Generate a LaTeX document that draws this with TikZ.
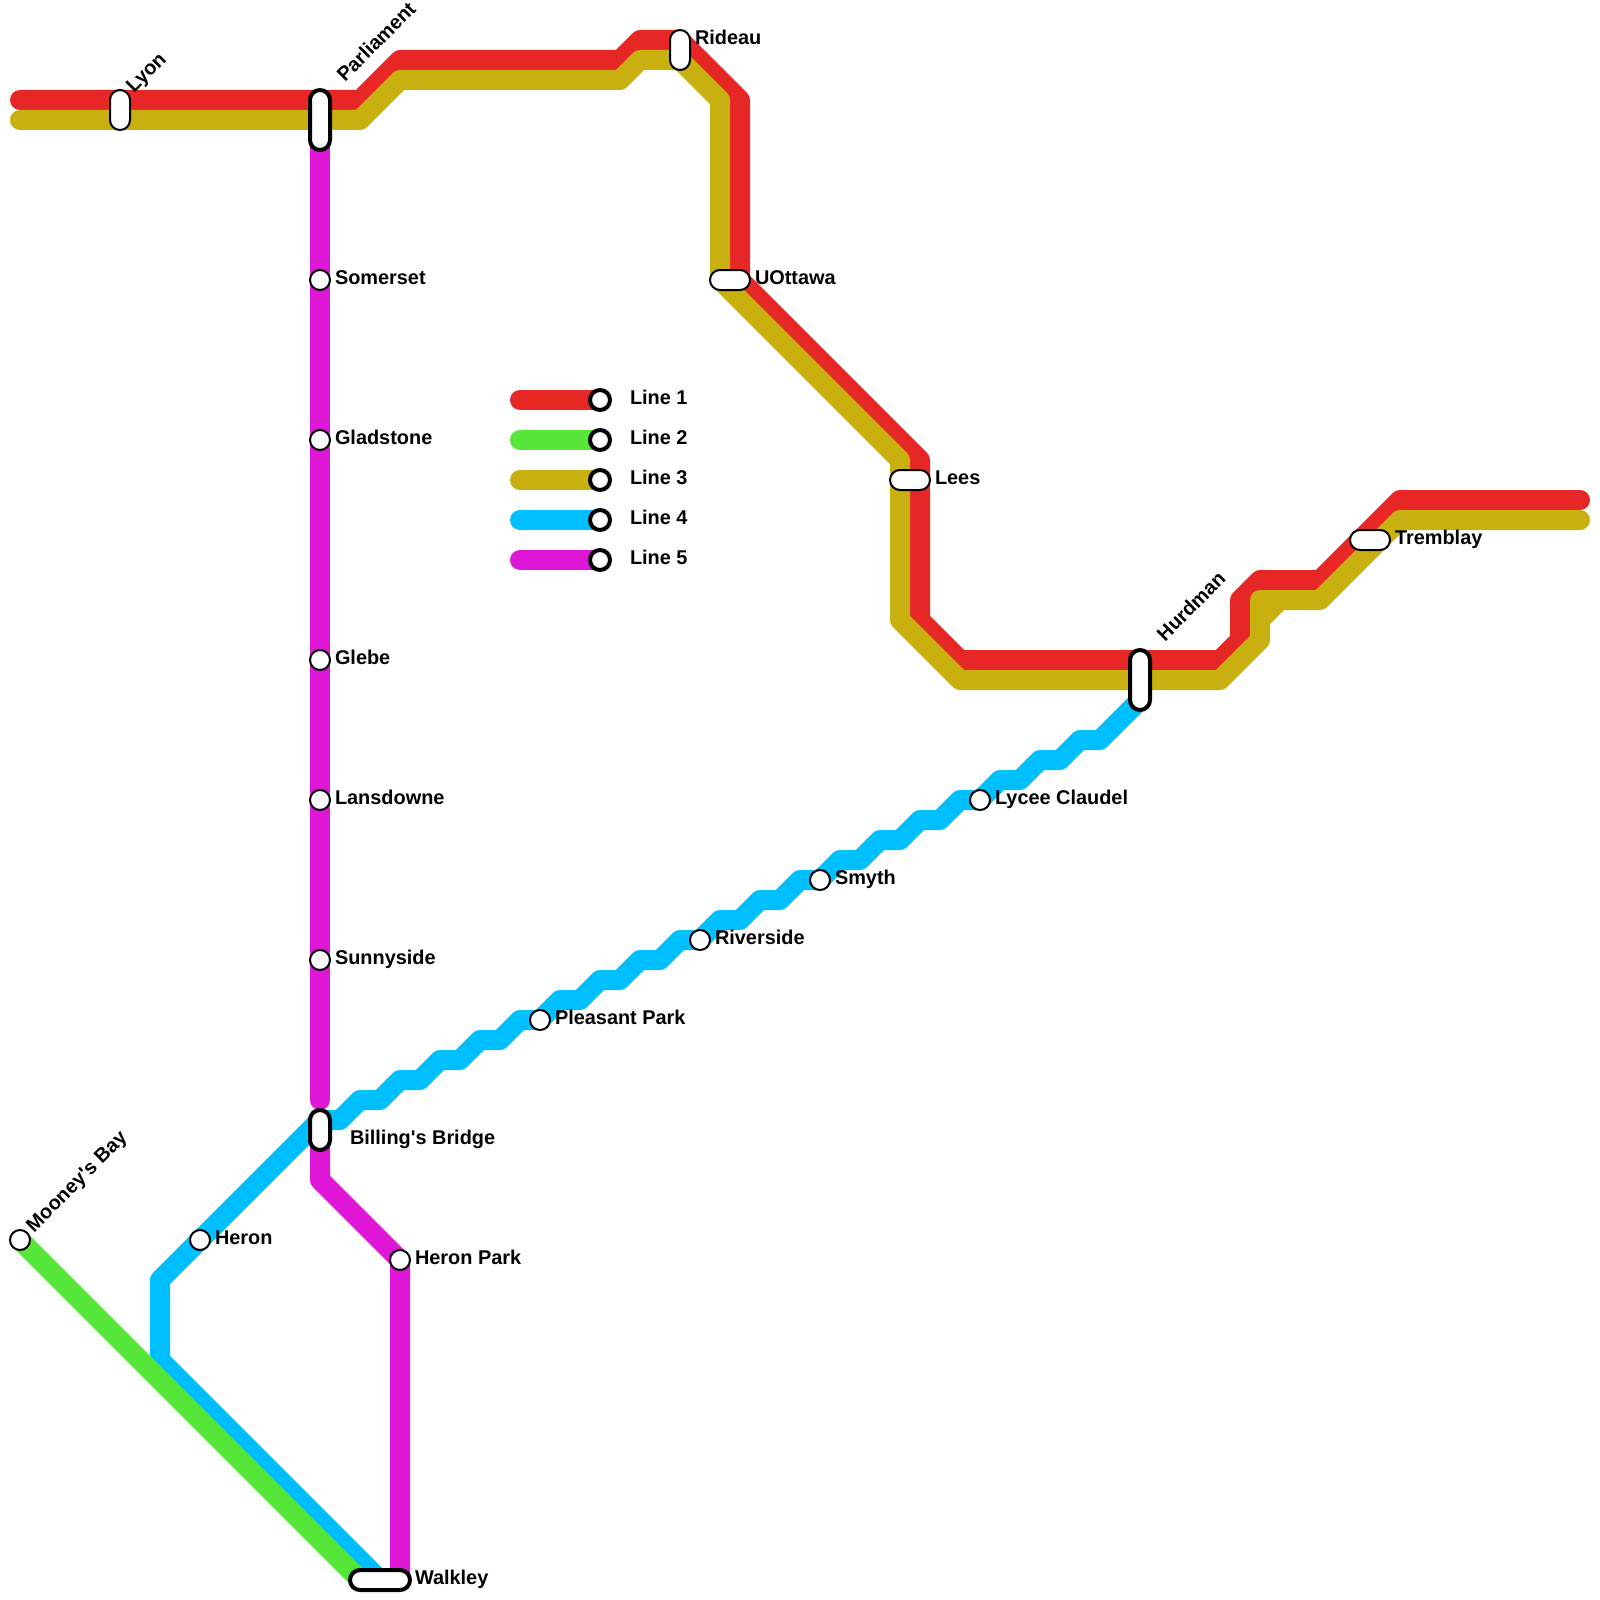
\documentclass[tikz,border=0pt]{standalone}
\usepackage{fontspec}
\setmainfont{Liberation Sans}
\usepackage{xcolor}
\usetikzlibrary{positioning}
\definecolor{MetroRed}{RGB}{230, 39, 38}
\definecolor{MetroGreen}{RGB}{85, 230, 57}
\definecolor{MetroGold}{RGB}{200, 176, 16}
\definecolor{MetroBlue}{RGB}{0, 191, 255}
\definecolor{MetroMagenta}{RGB}{222, 22, 214}
\tikzset{
  track/.style={line width=20pt, line cap=round, line join=round},
  stop/.style={circle, draw=black, fill=white, line width=2pt, minimum size=20pt, inner sep=0pt, outer sep=0pt},
  legendstop/.style={stop, line width=4pt},
  pillup/.style={rectangle, draw=black, fill=white, line width=2pt, rounded corners=10pt,
        minimum width=20pt, inner sep=0pt, outer sep=0pt},
  pillside/.style={pillup, minimum height=20pt},
  hubpill/.style={pillup, line width=4pt},
  stoplabel/.style={anchor=base west, inner sep=0pt, outer sep=0pt, text=black,
        font=\fontsize{19.9}{22}\selectfont\bfseries},
  slantlabel/.style={stoplabel, rotate=45},
}

\begin{document}
\begin{tikzpicture}[x=1pt,y=-1pt]
  \path[use as bounding box, fill=white] (0,0) rectangle (1600,1600);

  % Line 5, in two parts either side of the bridge
  \draw[track, MetroMagenta] (320,120) -- (320,1100);
  \draw[track, MetroMagenta] (320,1140) -- (320,1180) -- (400,1260) -- (400,1580);

  % Line 4, stepped run up to the north east
  \draw[track, MetroBlue]
    (380,1580) -- (160,1360) -- (160,1280) -- (320,1120) -- (340,1120) --
    (360,1100) -- (380,1100) -- (400,1080) -- (420,1080) -- (440,1060) --
    (460,1060) -- (480,1040) -- (500,1040) -- (520,1020) -- (540,1020) --
    (560,1000) -- (580,1000) -- (600,980) -- (620,980) -- (640,960) --
    (660,960) -- (680,940) -- (700,940) -- (720,920) -- (740,920) --
    (760,900) -- (780,900) -- (800,880) -- (820,880) -- (840,860) --
    (860,860) -- (880,840) -- (900,840) -- (920,820) -- (940,820) --
    (960,800) -- (980,800) -- (1000,780) -- (1020,780) -- (1040,760) --
    (1060,760) -- (1080,740) -- (1100,740) -- (1140,700);

  % Line 2
  \draw[track, MetroGreen] (20,1240) -- (360,1580);

  % Line 1
  \draw[track, MetroRed]
    (20,100) -- (360,100) -- (400,60) -- (620,60) -- (640,40) -- (680,40) --
    (740,100) -- (740,280) -- (920,460) -- (920,620) -- (960,660) --
    (1220,660) -- (1240,640) -- (1240,600) -- (1260,580) -- (1320,580) --
    (1400,500) -- (1580,500);

  % Line 3
  \draw[track, MetroGold]
    (20,120) -- (360,120) -- (400,80) -- (620,80) -- (640,60) -- (680,60) --
    (720,100) -- (720,280) -- (900,460) -- (900,620) -- (960,680) --
    (1220,680) -- (1260,640) -- (1260,600) -- (1320,600) --
    (1400,520) -- (1580,520);
  \draw[track, MetroGold] (1260,620) -- (1280,600);

  % Stations on the top run
  \node[pillup, minimum height=40pt] (lyon) at (120,110) {};
  \node[slantlabel] (lyonlabel) at (134,93.5) {Lyon};
  \node[hubpill, minimum height=60pt] (parliament) at (320,120) {};
  \node[slantlabel] (parliamentlabel) at (345,82.5) {Parliament};
  \node[pillup, minimum height=40pt] (rideau) at (680,50) {};
  \node[stoplabel] (rideaulabel) at (695,44.7) {Rideau};
  \node[pillside, minimum width=40pt] (uottawa) at (730,280) {};
  \node[stoplabel] (uottawalabel) at (755,284.7) {UOttawa};
  \node[pillside, minimum width=40pt] (lees) at (910,480) {};
  \node[stoplabel] (leeslabel) at (935,484.7) {Lees};
  \node[hubpill, minimum height=60pt] (hurdman) at (1140,680) {};
  \node[slantlabel] (hurdmanlabel) at (1165,642) {Hurdman};
  \node[pillside, minimum width=40pt] (tremblay) at (1370,540) {};
  \node[stoplabel] (tremblaylabel) at (1395,544.7) {Tremblay};

  % Stations on Line 5
  \node[stop] (somerset) at (320,280) {};
  \node[stoplabel] (somersetlabel) at (335,284.7) {Somerset};
  \node[stop] (gladstone) at (320,440) {};
  \node[stoplabel] (gladstonelabel) at (335,444.7) {Gladstone};
  \node[stop] (glebe) at (320,660) {};
  \node[stoplabel] (glebelabel) at (335,664.7) {Glebe};
  \node[stop] (lansdowne) at (320,800) {};
  \node[stoplabel] (lansdownelabel) at (335,804.7) {Lansdowne};
  \node[stop] (sunnyside) at (320,960) {};
  \node[stoplabel] (sunnysidelabel) at (335,964.7) {Sunnyside};
  \node[hubpill, minimum height=40pt] (billings) at (320,1130) {};
  \node[stoplabel] (billingslabel) at (350,1144.7) {Billing\textquotesingle s Bridge};
  \node[stop] (heronpark) at (400,1260) {};
  \node[stoplabel] (heronparklabel) at (415,1264.7) {Heron Park};
  \node[hubpill, minimum height=20pt, minimum width=60pt] (walkley) at (380,1580) {};
  \node[stoplabel] (walkleylabel) at (415,1584.7) {Walkley};

  % Stations on Line 4 and Line 2
  \node[stop] (mooneys) at (20,1240) {};
  \node[slantlabel] (mooneyslabel) at (34,1233) {Mooney\textquotesingle s Bay};
  \node[stop] (heron) at (200,1240) {};
  \node[stoplabel] (heronlabel) at (215,1244.7) {Heron};
  \node[stop] (pleasant) at (540,1020) {};
  \node[stoplabel] (pleasantlabel) at (555,1024.7) {Pleasant Park};
  \node[stop] (riverside) at (700,940) {};
  \node[stoplabel] (riversidelabel) at (715,944.7) {Riverside};
  \node[stop] (smyth) at (820,880) {};
  \node[stoplabel] (smythlabel) at (835,884.7) {Smyth};
  \node[stop] (lycee) at (980,800) {};
  \node[stoplabel] (lyceelabel) at (995,804.7) {Lycee Claudel};

  % Legend
  \draw[track, MetroRed] (520,400) -- (600,400);
  \node[legendstop] (legendone) at (600,400) {};
  \node[stoplabel] (legendonelabel) at (630,404.7) {Line 1};
  \draw[track, MetroGreen] (520,440) -- (600,440);
  \node[legendstop] (legendtwo) at (600,440) {};
  \node[stoplabel] (legendtwolabel) at (630,444.7) {Line 2};
  \draw[track, MetroGold] (520,480) -- (600,480);
  \node[legendstop] (legendthree) at (600,480) {};
  \node[stoplabel] (legendthreelabel) at (630,484.7) {Line 3};
  \draw[track, MetroBlue] (520,520) -- (600,520);
  \node[legendstop] (legendfour) at (600,520) {};
  \node[stoplabel] (legendfourlabel) at (630,524.7) {Line 4};
  \draw[track, MetroMagenta] (520,560) -- (600,560);
  \node[legendstop] (legendfive) at (600,560) {};
  \node[stoplabel] (legendfivelabel) at (630,564.7) {Line 5};
\end{tikzpicture}
\end{document}
